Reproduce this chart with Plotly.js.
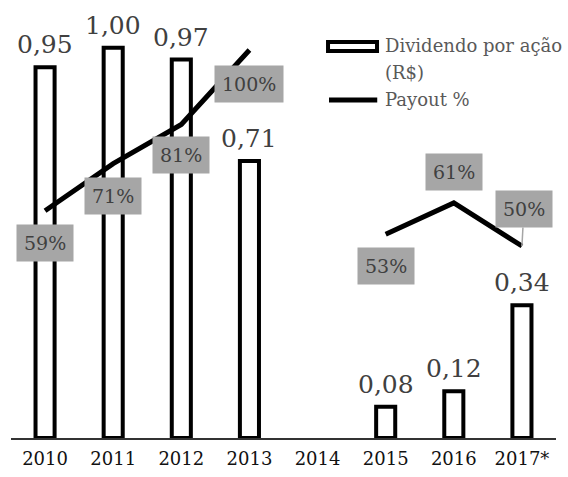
<!DOCTYPE html>
<html>
<head>
<meta charset="utf-8">
<script src="https://cdn.plot.ly/plotly-3.0.1.min.js"></script>
<style>html,body{margin:0;padding:0;background:#fff;}</style>
</head>
<body>
<div id="chart" style="width:568px;height:477px;"></div>
<script>
var years = ['2010', '2011', '2012', '2013', '2014', '2015', '2016', '2017*'];
var dividend = [0.95, 1.00, 0.97, 0.71, null, 0.08, 0.12, 0.34];
var dividendLabels = ['0,95', '1,00', '0,97', '0,71', '', '0,08', '0,12', '0,34'];
var payout = [59, 71, 81, 100, null, 53, 61, 50];
var payoutLabels = ['59%', '71%', '81%', '100%', '', '53%', '61%', '50%'];
var payoutLabelShift = [-32, -32, -31, -34, 0, -32, 31, 37];

var serif = 'DejaVu Serif';

var traces = [
  {
    type: 'bar', name: 'Dividendo por ação (R$)', x: years, y: dividend,
    marker: {color: '#ffffff', line: {color: '#000000', width: 4}},
    hoverinfo: 'none'
  },
  {
    type: 'scatter', mode: 'lines', name: 'Payout %', x: years, y: payout, yaxis: 'y2',
    line: {color: '#000000', width: 5}, connectgaps: false, hoverinfo: 'none'
  }
];

var annotations = [];
years.forEach(function (yr, i) {
  if (dividend[i] !== null) {
    annotations.push({
      x: i, y: dividend[i], xref: 'x', yref: 'y', text: dividendLabels[i],
      showarrow: false, xanchor: 'center', yanchor: 'bottom', yshift: 6,
      font: {family: serif, size: 25, color: '#404040'}
    });
  }
  if (payout[i] !== null) {
    var a = {
      x: i, y: payout[i], xref: 'x', yref: 'y2', text: payoutLabels[i],
      bgcolor: '#a6a6a6', borderpad: 7,
      font: {family: serif, size: 19, color: '#404040'}
    };
    if (i === 7) {
      a.showarrow = true; a.arrowhead = 0; a.arrowcolor = '#a6a6a6'; a.arrowwidth = 1.5;
      a.ax = 2; a.ay = -payoutLabelShift[i];
    } else {
      a.showarrow = false; a.xanchor = 'center'; a.yanchor = 'middle'; a.yshift = payoutLabelShift[i];
    }
    annotations.push(a);
  }
});

// legend (manual)
annotations.push({xref: 'paper', yref: 'paper', x: 0.682, y: 0.917, xanchor: 'left', yanchor: 'middle',
  text: 'Dividendo por ação', showarrow: false, font: {family: serif, size: 18, color: '#595959'}});
annotations.push({xref: 'paper', yref: 'paper', x: 0.682, y: 0.855, xanchor: 'left', yanchor: 'middle',
  text: '(R$)', showarrow: false, font: {family: serif, size: 18, color: '#595959'}});
annotations.push({xref: 'paper', yref: 'paper', x: 0.682, y: 0.790, xanchor: 'left', yanchor: 'middle',
  text: 'Payout %', showarrow: false, font: {family: serif, size: 18, color: '#595959'}});

var shapes = [
  {type: 'rect', xref: 'paper', yref: 'paper', x0: 0.5817, x1: 0.6716, y0: 0.904, y1: 0.925,
   line: {color: '#000000', width: 4}, fillcolor: '#ffffff'},
  {type: 'line', xref: 'paper', yref: 'paper', x0: 0.5835, x1: 0.672, y0: 0.7897, y1: 0.7897,
   line: {color: '#000000', width: 5}}
];

var layout = {
  width: 568, height: 477,
  margin: {l: 11, r: 12, t: 10, b: 39},
  paper_bgcolor: '#ffffff', plot_bgcolor: '#ffffff',
  showlegend: false,
  bargap: 0.72,
  xaxis: {
    type: 'category', categoryorder: 'array', categoryarray: years,
    range: [-0.5, 7.5], autorange: false,
    showgrid: false, zeroline: false,
    showline: true, linecolor: '#333333', linewidth: 1.5,
    ticks: '', ticklabelstandoff: 4,
    tickfont: {family: serif, size: 18, color: '#111111'}
  },
  yaxis: {range: [0, 1.097], autorange: false, visible: false, showgrid: false, zeroline: false},
  yaxis2: {range: [1.02, 110.2], autorange: false, overlaying: 'y', side: 'right', visible: false, showgrid: false, zeroline: false},
  annotations: annotations,
  shapes: shapes
};

Plotly.newPlot('chart', traces, layout, {displayModeBar: false, staticPlot: true});
</script>
</body>
</html>
